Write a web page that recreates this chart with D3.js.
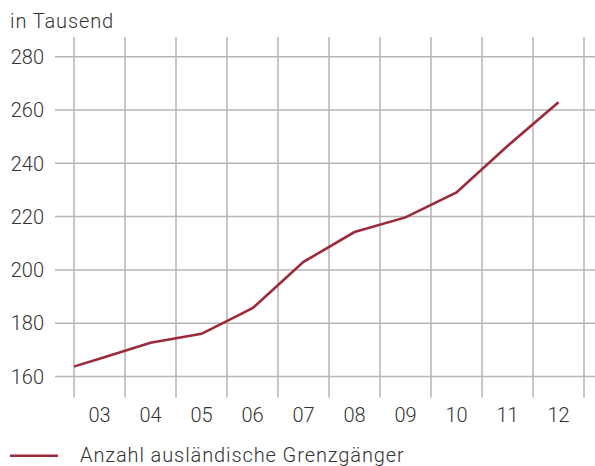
<!DOCTYPE html>
<html>
<head>
<meta charset="utf-8">
<script src="https://cdn.jsdelivr.net/npm/d3@7"></script>
<style>
  body { margin: 0; background: #fff; }
  svg text { font-family: Roboto, "Liberation Sans", sans-serif; font-weight: 300; fill: #333; }
  .grid line { stroke: #b5b5b5; stroke-width: 1.5; }
  .line { fill: none; stroke: #9b2a3a; stroke-width: 2.6; }
  .words { letter-spacing: 0.9px; }
</style>
</head>
<body>
<div id="graph"></div>
<script>
// years (02 only feeds the clipped start of the line)
const years = ["02", "03", "04", "05", "06", "07", "08", "09", "10", "11", "12"];
const values = [160.8, 166.7, 172.7, 176.0, 185.6, 203.0, 214.2, 219.7, 229.1, 246.5, 262.9];
const shownYears = ["03", "04", "05", "06", "07", "08", "09", "10", "11", "12"];
const yTicks = [160, 180, 200, 220, 240, 260, 280];
const unitLabel = "in Tausend";
const legendLabel = "Anzahl ausländische Grenzgänger";

const W = 595, H = 466;
const plot = { left: 74, right: 584, top: 56.7, bottom: 376.5 };

const svg = d3.select("#graph")
  .append("svg")
  .attr("width", W)
  .attr("height", H);

const xScale = d3.scaleBand()
  .domain(shownYears)
  .range([plot.left, plot.right])
  .padding(0);

// x for every year incl. the clipped one
const step = xScale.step();
const xPos = (yr) => shownYears.includes(yr)
  ? xScale(yr) + step / 2
  : xScale(shownYears[0]) - step / 2;

const yScale = d3.scaleLinear()
  .domain([160, 280])
  .range([plot.bottom, plot.top]);

// horizontal grid
const grid = svg.append("g").attr("class", "grid");
grid.selectAll("line.h")
  .data(yTicks)
  .enter()
  .append("line")
  .attr("class", "h")
  .attr("x1", 55)
  .attr("x2", W)
  .attr("y1", (d) => yScale(d))
  .attr("y2", (d) => yScale(d));

// vertical grid at band edges
const edges = shownYears.map((d) => xScale(d)).concat([xScale(shownYears[shownYears.length - 1]) + step]);
grid.selectAll("line.v")
  .data(edges)
  .enter()
  .append("line")
  .attr("class", "v")
  .attr("x1", (d) => d)
  .attr("x2", (d) => d)
  .attr("y1", 37)
  .attr("y2", 397.5);

// y labels
svg.append("g")
  .selectAll("text")
  .data(yTicks)
  .enter()
  .append("text")
  .attr("x", 44)
  .attr("y", (d) => yScale(d))
  .attr("dy", "0.36em")
  .attr("text-anchor", "end")
  .style("font-size", "20px")
  .text((d) => d);

// x labels
svg.append("g")
  .selectAll("text")
  .data(shownYears)
  .enter()
  .append("text")
  .attr("x", (d) => xScale(d) + step / 2)
  .attr("y", 422)
  .attr("text-anchor", "middle")
  .style("font-size", "20px")
  .text((d) => d);

svg.append("text")
  .attr("class", "words")
  .attr("x", 10)
  .attr("y", 28)
  .style("font-size", "20px")
  .text(unitLabel);

// clip so the line begins at the first grid line
svg.append("clipPath")
  .attr("id", "plotclip")
  .append("rect")
  .attr("x", plot.left)
  .attr("y", 0)
  .attr("width", W - plot.left)
  .attr("height", H);

const dataset = years.map((y, i) => ({ year: y, value: values[i] }));

const line = d3.line()
  .x((d) => xPos(d.year))
  .y((d) => yScale(d.value));

svg.append("path")
  .datum(dataset)
  .attr("class", "line")
  .attr("clip-path", "url(#plotclip)")
  .attr("d", line);

// legend
svg.append("line")
  .attr("x1", 10)
  .attr("x2", 58)
  .attr("y1", 455.7)
  .attr("y2", 455.7)
  .attr("stroke", "#9b2a3a")
  .attr("stroke-width", 2.6);

svg.append("text")
  .attr("class", "words")
  .attr("x", 80)
  .attr("y", 462)
  .style("font-size", "20px")
  .text(legendLabel);
</script>
</body>
</html>
